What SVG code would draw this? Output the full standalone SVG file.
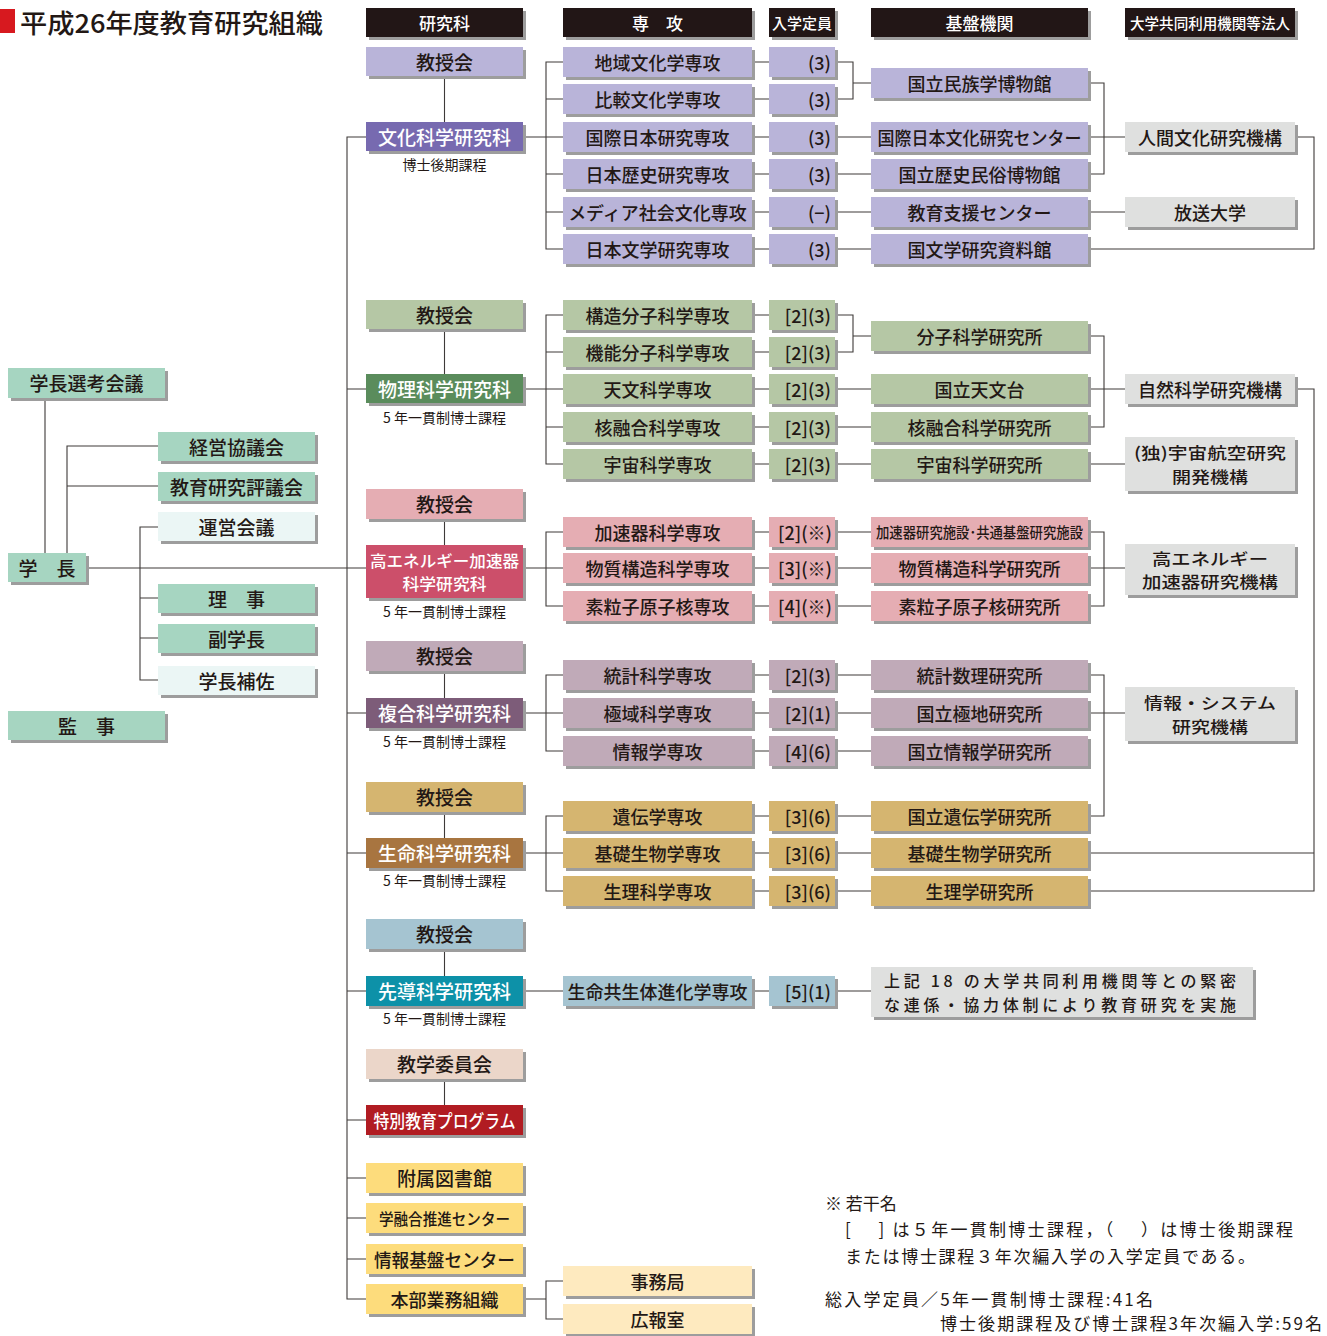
<svg xmlns="http://www.w3.org/2000/svg" width="1327" height="1336" viewBox="0 0 1327 1336">
<defs>
<filter id="ds" x="-5%" y="-10%" width="115%" height="140%">
<feDropShadow dx="3" dy="3" stdDeviation="0" flood-color="#9d9d9d" flood-opacity="1"/>
</filter>
<style>
.bx{filter:url(#ds);}
.t{font-family:"Noto Sans CJK JP","Noto Sans",sans-serif;font-size:18px;font-weight:500;fill:#231815;text-anchor:middle;dominant-baseline:central;}
.w{fill:#ffffff;}
.q{text-anchor:end;}
.s{font-size:14px;font-weight:normal;}
.m{font-size:16px;}
.n{font-family:"Noto Sans CJK JP","Noto Sans",sans-serif;font-size:17px;fill:#231815;}
.ln{stroke:#3e3a39;stroke-width:1.1;fill:none;}
.fk{fill:#231815}
.fb1{fill:#b9b4d9}.fb2{fill:#776bb0}
.fp1{fill:#b5c7a5}.fp2{fill:#5a8c5c}
.fh1{fill:#e5adb3}.fh2{fill:#cc4f6b}
.fc1{fill:#c0aab8}.fc2{fill:#7d5b79}
.fl1{fill:#d5b56f}.fl2{fill:#a8743f}
.fs1{fill:#a5c4d1}.fs2{fill:#0a91a8}
.fm{fill:#a6d5c1}.fm2{fill:#ebf6f5}
.fg{fill:#dfe0df}
.fy{fill:#fddc7b}.fy2{fill:#feeabf}
.fe{fill:#ebd6c9}.fr{fill:#b11b22}
</style>
</defs>
<rect width="1327" height="1336" fill="#ffffff"/>

<g id="title">
<rect x="0" y="9" width="15" height="24" fill="#d7191f"/>
<text class="t" x="20" y="21" style="text-anchor:start;font-size:26px" textLength="303" lengthAdjust="spacingAndGlyphs">平成26年度教育研究組織</text>
</g>

<g id="connectors">
<path class="ln" d="M45 398V553M158 446H67V553M67 486H158M158 527H140V680H158M140 598H158M140 638H158M86 568H366"/>
<path class="ln" d="M366 137H347V1299H366M347 389H366M347 713H366M347 853H366M347 991H366M347 1120H366M347 1178H366M347 1218H366M347 1259H366"/>
<path class="ln" d="M444.5 77V122M444.5 330V374M444.5 519V545M444.5 671V698M444.5 812V838M444.5 949V976M444.5 1079V1105"/>
<path class="ln" d="M523 137H563M523 389H563M523 568H563M523 713H563M523 853H563M523 991H563M523 1299H546"/>
<path class="ln" d="M563 62H546V249H563M546 99H563M546 174H563M546 212H563M563 315H546V464H563M546 352H563M546 427H563M563 532H546V606H563M563 675H546V751H563M563 816H546V891H563M563 1281H546V1319H563"/>
<path class="ln" d="M752 62H769M752 99H769M752 137H769M752 174H769M752 212H769M752 249H769M752 315H769M752 352H769M752 389H769M752 427H769M752 464H769M752 532H769M752 568H769M752 606H769M752 675H769M752 713H769M752 751H769M752 816H769M752 853H769M752 891H769M752 991H769"/>
<path class="ln" d="M835 62H853V99H835M853 83H871M835 137H871M835 174H871M835 212H871M835 249H871M835 315H853V352H835M853 336H871M835 389H871M835 427H871M835 464H871M835 532H871M835 568H871M835 606H871M835 675H871M835 713H871M835 751H871M835 816H871M835 853H871M835 891H871M835 991H871"/>
<path class="ln" d="M1088 83H1104V174H1088M1088 137H1125M1088 212H1125M1088 249H1314V137H1295M1088 336H1104V427H1088M1088 389H1125M1088 464H1125M1295 389H1314V891H1088M1088 532H1104V606H1088M1088 568H1125M1088 675H1104V816H1088M1088 713H1125M1088 853H1314"/>
</g>

<g id="headers">
<g id="h-kenkyuka"><rect class="bx fk" x="366" y="8" width="157" height="29"/><text class="t w" x="444.5" y="22.5" style="font-size:17px">研究科</text></g>
<g id="h-senko"><rect class="bx fk" x="563" y="8" width="189" height="29"/><text class="t w" x="657.5" y="22.5" style="font-size:17px">専　攻</text></g>
<g id="h-teiin"><rect class="bx fk" x="769" y="8" width="66" height="29"/><text class="t w" x="802" y="22.5" style="font-size:15px" textLength="60" lengthAdjust="spacingAndGlyphs">入学定員</text></g>
<g id="h-kiban"><rect class="bx fk" x="871" y="8" width="217" height="29"/><text class="t w" x="979.5" y="22.5" style="font-size:17px">基盤機関</text></g>
<g id="h-hojin"><rect class="bx fk" x="1125" y="8" width="170" height="29"/><text class="t w" x="1210" y="22.5" style="font-size:15px" textLength="160" lengthAdjust="spacingAndGlyphs">大学共同利用機関等法人</text></g>
</g>

<g id="left">
<g id="n-senkou"><rect class="bx fm" x="8" y="368" width="157" height="30"/><text class="t" x="86.5" y="382.5" style="font-size:19px">学長選考会議</text></g>
<g id="n-keiei"><rect class="bx fm" x="158" y="432" width="157" height="29"/><text class="t" x="236.5" y="446" style="font-size:19px">経営協議会</text></g>
<g id="n-hyogi"><rect class="bx fm" x="158" y="472" width="157" height="29"/><text class="t" x="236.5" y="486" style="font-size:19px">教育研究評議会</text></g>
<g id="n-unei"><rect class="bx fm2" x="158" y="512" width="157" height="29"/><text class="t" x="236.5" y="526" style="font-size:19px">運営会議</text></g>
<g id="n-gakucho"><rect class="bx fm" x="8" y="553" width="78" height="29"/><text class="t" x="47" y="567" style="font-size:19px">学　長</text></g>
<g id="n-riji"><rect class="bx fm" x="158" y="584" width="157" height="29"/><text class="t" x="236.5" y="598" style="font-size:19px">理　事</text></g>
<g id="n-fuku"><rect class="bx fm" x="158" y="624" width="157" height="29"/><text class="t" x="236.5" y="638" style="font-size:19px">副学長</text></g>
<g id="n-hosa"><rect class="bx fm2" x="158" y="666" width="157" height="29"/><text class="t" x="236.5" y="680" style="font-size:19px">学長補佐</text></g>
<g id="n-kanji"><rect class="bx fm" x="8" y="711" width="157" height="29"/><text class="t" x="86.5" y="725" style="font-size:19px">監　事</text></g>
</g>

<g id="bunka">
<g id="k-bunka-kyoju"><rect class="bx fb1" x="366" y="47" width="157" height="29"/><text class="t" x="444.5" y="61" style="font-size:19px">教授会</text></g>
<g id="k-bunka"><rect class="bx fb2" x="366" y="122" width="157" height="29"/><text class="t w" x="444.5" y="136" style="font-size:19px">文化科学研究科</text></g>
<text class="t s" x="444.5" y="164">博士後期課程</text>
<g id="s-chiiki"><rect class="bx fb1" x="563" y="47" width="189" height="30"/><text class="t" x="657.5" y="61.5">地域文化学専攻</text></g>
<g id="s-hikaku"><rect class="bx fb1" x="563" y="84" width="189" height="30"/><text class="t" x="657.5" y="98.5">比較文化学専攻</text></g>
<g id="s-kokusai"><rect class="bx fb1" x="563" y="122" width="189" height="30"/><text class="t" x="657.5" y="136.5">国際日本研究専攻</text></g>
<g id="s-rekishi"><rect class="bx fb1" x="563" y="159" width="189" height="30"/><text class="t" x="657.5" y="173.5">日本歴史研究専攻</text></g>
<g id="s-media"><rect class="bx fb1" x="563" y="197" width="189" height="30"/><text class="t" x="657.5" y="211.5">メディア社会文化専攻</text></g>
<g id="s-bungaku"><rect class="bx fb1" x="563" y="234" width="189" height="30"/><text class="t" x="657.5" y="248.5">日本文学研究専攻</text></g>
<g id="q-b1"><rect class="bx fb1" x="769" y="47" width="66" height="30"/><text class="t q" x="831" y="61.5">(3)</text></g>
<g id="q-b2"><rect class="bx fb1" x="769" y="84" width="66" height="30"/><text class="t q" x="831" y="98.5">(3)</text></g>
<g id="q-b3"><rect class="bx fb1" x="769" y="122" width="66" height="30"/><text class="t q" x="831" y="136.5">(3)</text></g>
<g id="q-b4"><rect class="bx fb1" x="769" y="159" width="66" height="30"/><text class="t q" x="831" y="173.5">(3)</text></g>
<g id="q-b5"><rect class="bx fb1" x="769" y="197" width="66" height="30"/><text class="t q" x="831" y="211.5">(−)</text></g>
<g id="q-b6"><rect class="bx fb1" x="769" y="234" width="66" height="30"/><text class="t q" x="831" y="248.5">(3)</text></g>
<g id="b-minpaku"><rect class="bx fb1" x="871" y="68" width="217" height="30"/><text class="t" x="979.5" y="82.5">国立民族学博物館</text></g>
<g id="b-nichibun"><rect class="bx fb1" x="871" y="122" width="217" height="30"/><text class="t" x="979.5" y="136.5" textLength="204" lengthAdjust="spacingAndGlyphs">国際日本文化研究センター</text></g>
<g id="b-rekihaku"><rect class="bx fb1" x="871" y="159" width="217" height="30"/><text class="t" x="979.5" y="173.5">国立歴史民俗博物館</text></g>
<g id="b-shien"><rect class="bx fb1" x="871" y="197" width="217" height="30"/><text class="t" x="979.5" y="211.5">教育支援センター</text></g>
<g id="b-kokubun"><rect class="bx fb1" x="871" y="234" width="217" height="30"/><text class="t" x="979.5" y="248.5">国文学研究資料館</text></g>
<g id="h-ningen"><rect class="bx fg" x="1125" y="122" width="170" height="30"/><text class="t" x="1210" y="136.5">人間文化研究機構</text></g>
<g id="h-hoso"><rect class="bx fg" x="1125" y="197" width="170" height="30"/><text class="t" x="1210" y="211.5">放送大学</text></g>
</g>

<g id="butsuri">
<g id="k-butsuri-kyoju"><rect class="bx fp1" x="366" y="300" width="157" height="29"/><text class="t" x="444.5" y="314" style="font-size:19px">教授会</text></g>
<g id="k-butsuri"><rect class="bx fp2" x="366" y="374" width="157" height="29"/><text class="t w" x="444.5" y="388" style="font-size:19px">物理科学研究科</text></g>
<text class="t s" x="444.5" y="417">5 年一貫制博士課程</text>
<g id="s-kozo"><rect class="bx fp1" x="563" y="300" width="189" height="30"/><text class="t" x="657.5" y="314.5">構造分子科学専攻</text></g>
<g id="s-kino"><rect class="bx fp1" x="563" y="337" width="189" height="30"/><text class="t" x="657.5" y="351.5">機能分子科学専攻</text></g>
<g id="s-tenmon"><rect class="bx fp1" x="563" y="374" width="189" height="30"/><text class="t" x="657.5" y="388.5">天文科学専攻</text></g>
<g id="s-kakuyugo"><rect class="bx fp1" x="563" y="412" width="189" height="30"/><text class="t" x="657.5" y="426.5">核融合科学専攻</text></g>
<g id="s-uchu"><rect class="bx fp1" x="563" y="449" width="189" height="30"/><text class="t" x="657.5" y="463.5">宇宙科学専攻</text></g>
<g id="q-p1"><rect class="bx fp1" x="769" y="300" width="66" height="30"/><text class="t q" x="831" y="314.5">[2](3)</text></g>
<g id="q-p2"><rect class="bx fp1" x="769" y="337" width="66" height="30"/><text class="t q" x="831" y="351.5">[2](3)</text></g>
<g id="q-p3"><rect class="bx fp1" x="769" y="374" width="66" height="30"/><text class="t q" x="831" y="388.5">[2](3)</text></g>
<g id="q-p4"><rect class="bx fp1" x="769" y="412" width="66" height="30"/><text class="t q" x="831" y="426.5">[2](3)</text></g>
<g id="q-p5"><rect class="bx fp1" x="769" y="449" width="66" height="30"/><text class="t q" x="831" y="463.5">[2](3)</text></g>
<g id="b-bunshi"><rect class="bx fp1" x="871" y="321" width="217" height="30"/><text class="t" x="979.5" y="335.5">分子科学研究所</text></g>
<g id="b-tenmondai"><rect class="bx fp1" x="871" y="374" width="217" height="30"/><text class="t" x="979.5" y="388.5">国立天文台</text></g>
<g id="b-kakuyugo"><rect class="bx fp1" x="871" y="412" width="217" height="30"/><text class="t" x="979.5" y="426.5">核融合科学研究所</text></g>
<g id="b-uchu"><rect class="bx fp1" x="871" y="449" width="217" height="30"/><text class="t" x="979.5" y="463.5">宇宙科学研究所</text></g>
<g id="h-shizen"><rect class="bx fg" x="1125" y="374" width="170" height="30"/><text class="t" x="1210" y="388.5">自然科学研究機構</text></g>
<g id="h-jaxa"><rect class="bx fg" x="1125" y="437" width="170" height="54"/><text class="t m" x="1210" y="452"><tspan x="1210" textLength="152" lengthAdjust="spacingAndGlyphs">(独)宇宙航空研究</tspan><tspan x="1210" dy="23.5" textLength="76" lengthAdjust="spacingAndGlyphs">開発機構</tspan></text></g>
</g>

<g id="koene">
<g id="k-koene-kyoju"><rect class="bx fh1" x="366" y="489" width="157" height="30"/><text class="t" x="444.5" y="503.5" style="font-size:19px">教授会</text></g>
<g id="k-koene"><rect class="bx fh2" x="366" y="545" width="157" height="53"/><text class="t w m" x="444.5" y="559.5"><tspan x="444.5" textLength="149" lengthAdjust="spacingAndGlyphs">高エネルギー加速器</tspan><tspan x="444.5" dy="23.5" textLength="84" lengthAdjust="spacingAndGlyphs">科学研究科</tspan></text></g>
<text class="t s" x="444.5" y="611">5 年一貫制博士課程</text>
<g id="s-kasokuki"><rect class="bx fh1" x="563" y="517" width="189" height="30"/><text class="t" x="657.5" y="531.5">加速器科学専攻</text></g>
<g id="s-busshitsu"><rect class="bx fh1" x="563" y="553" width="189" height="30"/><text class="t" x="657.5" y="567.5">物質構造科学専攻</text></g>
<g id="s-soryushi"><rect class="bx fh1" x="563" y="591" width="189" height="30"/><text class="t" x="657.5" y="605.5">素粒子原子核専攻</text></g>
<g id="q-h1"><rect class="bx fh1" x="769" y="517" width="66" height="30"/><text class="t q" x="832" y="531.5">[2](※)</text></g>
<g id="q-h2"><rect class="bx fh1" x="769" y="553" width="66" height="30"/><text class="t q" x="832" y="567.5">[3](※)</text></g>
<g id="q-h3"><rect class="bx fh1" x="769" y="591" width="66" height="30"/><text class="t q" x="832" y="605.5">[4](※)</text></g>
<g id="b-kasokuki"><rect class="bx fh1" x="871" y="517" width="217" height="30"/><text class="t" x="979.5" y="531.5" style="font-size:15px" textLength="207" lengthAdjust="spacingAndGlyphs">加速器研究施設･共通基盤研究施設</text></g>
<g id="b-busshitsu"><rect class="bx fh1" x="871" y="553" width="217" height="30"/><text class="t" x="979.5" y="567.5">物質構造科学研究所</text></g>
<g id="b-soryushi"><rect class="bx fh1" x="871" y="591" width="217" height="30"/><text class="t" x="979.5" y="605.5">素粒子原子核研究所</text></g>
<g id="h-kek"><rect class="bx fg" x="1125" y="544" width="170" height="51"/><text class="t m" x="1210" y="557.5"><tspan x="1210" textLength="116" lengthAdjust="spacingAndGlyphs">高エネルギー</tspan><tspan x="1210" dy="23.5" textLength="136" lengthAdjust="spacingAndGlyphs">加速器研究機構</tspan></text></g>
</g>

<g id="fukugo">
<g id="k-fukugo-kyoju"><rect class="bx fc1" x="366" y="641" width="157" height="30"/><text class="t" x="444.5" y="655.5" style="font-size:19px">教授会</text></g>
<g id="k-fukugo"><rect class="bx fc2" x="366" y="698" width="157" height="30"/><text class="t w" x="444.5" y="712.5" style="font-size:19px">複合科学研究科</text></g>
<text class="t s" x="444.5" y="741">5 年一貫制博士課程</text>
<g id="s-tokei"><rect class="bx fc1" x="563" y="660" width="189" height="30"/><text class="t" x="657.5" y="674.5">統計科学専攻</text></g>
<g id="s-kyokuiki"><rect class="bx fc1" x="563" y="698" width="189" height="30"/><text class="t" x="657.5" y="712.5">極域科学専攻</text></g>
<g id="s-joho"><rect class="bx fc1" x="563" y="736" width="189" height="30"/><text class="t" x="657.5" y="750.5">情報学専攻</text></g>
<g id="q-c1"><rect class="bx fc1" x="769" y="660" width="66" height="30"/><text class="t q" x="831" y="674.5">[2](3)</text></g>
<g id="q-c2"><rect class="bx fc1" x="769" y="698" width="66" height="30"/><text class="t q" x="831" y="712.5">[2](1)</text></g>
<g id="q-c3"><rect class="bx fc1" x="769" y="736" width="66" height="30"/><text class="t q" x="831" y="750.5">[4](6)</text></g>
<g id="b-tokei"><rect class="bx fc1" x="871" y="660" width="217" height="30"/><text class="t" x="979.5" y="674.5">統計数理研究所</text></g>
<g id="b-kyokuchi"><rect class="bx fc1" x="871" y="698" width="217" height="30"/><text class="t" x="979.5" y="712.5">国立極地研究所</text></g>
<g id="b-joho"><rect class="bx fc1" x="871" y="736" width="217" height="30"/><text class="t" x="979.5" y="750.5">国立情報学研究所</text></g>
<g id="h-rois"><rect class="bx fg" x="1125" y="687" width="170" height="54"/><text class="t m" x="1210" y="702"><tspan x="1210" textLength="132" lengthAdjust="spacingAndGlyphs">情報・システム</tspan><tspan x="1210" dy="23.5" textLength="76" lengthAdjust="spacingAndGlyphs">研究機構</tspan></text></g>
</g>

<g id="seimei">
<g id="k-seimei-kyoju"><rect class="bx fl1" x="366" y="782" width="157" height="30"/><text class="t" x="444.5" y="796.5" style="font-size:19px">教授会</text></g>
<g id="k-seimei"><rect class="bx fl2" x="366" y="838" width="157" height="30"/><text class="t w" x="444.5" y="852.5" style="font-size:19px">生命科学研究科</text></g>
<text class="t s" x="444.5" y="880">5 年一貫制博士課程</text>
<g id="s-iden"><rect class="bx fl1" x="563" y="801" width="189" height="30"/><text class="t" x="657.5" y="815.5">遺伝学専攻</text></g>
<g id="s-kiso"><rect class="bx fl1" x="563" y="838" width="189" height="30"/><text class="t" x="657.5" y="852.5">基礎生物学専攻</text></g>
<g id="s-seiri"><rect class="bx fl1" x="563" y="876" width="189" height="30"/><text class="t" x="657.5" y="890.5">生理科学専攻</text></g>
<g id="q-l1"><rect class="bx fl1" x="769" y="801" width="66" height="30"/><text class="t q" x="831" y="815.5">[3](6)</text></g>
<g id="q-l2"><rect class="bx fl1" x="769" y="838" width="66" height="30"/><text class="t q" x="831" y="852.5">[3](6)</text></g>
<g id="q-l3"><rect class="bx fl1" x="769" y="876" width="66" height="30"/><text class="t q" x="831" y="890.5">[3](6)</text></g>
<g id="b-iden"><rect class="bx fl1" x="871" y="801" width="217" height="30"/><text class="t" x="979.5" y="815.5">国立遺伝学研究所</text></g>
<g id="b-kiso"><rect class="bx fl1" x="871" y="838" width="217" height="30"/><text class="t" x="979.5" y="852.5">基礎生物学研究所</text></g>
<g id="b-seiri"><rect class="bx fl1" x="871" y="876" width="217" height="30"/><text class="t" x="979.5" y="890.5">生理学研究所</text></g>
</g>

<g id="sendo">
<g id="k-sendo-kyoju"><rect class="bx fs1" x="366" y="919" width="157" height="30"/><text class="t" x="444.5" y="933.5" style="font-size:19px">教授会</text></g>
<g id="k-sendo"><rect class="bx fs2" x="366" y="976" width="157" height="30"/><text class="t w" x="444.5" y="990.5" style="font-size:19px">先導科学研究科</text></g>
<text class="t s" x="444.5" y="1018">5 年一貫制博士課程</text>
<g id="s-kyosei"><rect class="bx fs1" x="563" y="976" width="189" height="30"/><text class="t" x="657.5" y="990.5">生命共生体進化学専攻</text></g>
<g id="q-s1"><rect class="bx fs1" x="769" y="976" width="66" height="30"/><text class="t q" x="831" y="990.5">[5](1)</text></g>
<g id="note-box"><rect class="bx fg" x="871" y="967" width="382" height="50"/>
<text class="t m" x="884" y="980" style="text-anchor:start"><tspan x="884" textLength="352" lengthAdjust="spacing">上記 18 の大学共同利用機関等との緊密</tspan><tspan x="884" dy="23.5" textLength="352" lengthAdjust="spacing">な連係・協力体制により教育研究を実施</tspan></text></g>
</g>

<g id="others">
<g id="k-kyogaku"><rect class="bx fe" x="366" y="1049" width="157" height="30"/><text class="t" x="444.5" y="1063.5" style="font-size:19px">教学委員会</text></g>
<g id="k-tokubetsu"><rect class="bx fr" x="366" y="1105" width="157" height="30"/><text class="t w" x="444.5" y="1119.5" textLength="142" lengthAdjust="spacingAndGlyphs">特別教育プログラム</text></g>
<g id="k-tosho"><rect class="bx fy" x="366" y="1163" width="157" height="30"/><text class="t" x="444.5" y="1177.5" style="font-size:19px">附属図書館</text></g>
<g id="k-gakuyugo"><rect class="bx fy" x="366" y="1203" width="157" height="30"/><text class="t" x="444.5" y="1217.5" style="font-size:16px" textLength="131" lengthAdjust="spacingAndGlyphs">学融合推進センター</text></g>
<g id="k-johokiban"><rect class="bx fy" x="366" y="1244" width="157" height="30"/><text class="t" x="444.5" y="1258.5" textLength="141" lengthAdjust="spacingAndGlyphs">情報基盤センター</text></g>
<g id="k-honbu"><rect class="bx fy" x="366" y="1284" width="157" height="30"/><text class="t" x="444.5" y="1298.5">本部業務組織</text></g>
<g id="s-jimu"><rect class="bx fy2" x="563" y="1266" width="189" height="30"/><text class="t" x="657.5" y="1280.5">事務局</text></g>
<g id="s-koho"><rect class="bx fy2" x="563" y="1304" width="189" height="30"/><text class="t" x="657.5" y="1318.5">広報室</text></g>
</g>

<g id="footnotes">
<text class="n" x="825" y="1210">※ 若干名</text>
<text class="n" x="845" y="1236" textLength="448" lengthAdjust="spacing">[　 ] は５年一貫制博士課程，（　 ）は博士後期課程</text>
<text class="n" x="845" y="1263" textLength="410" lengthAdjust="spacing">または博士課程３年次編入学の入学定員である。</text>
<text class="n" x="825" y="1306" textLength="328" lengthAdjust="spacing">総入学定員／5年一貫制博士課程:41名</text>
<text class="n" x="940" y="1330" textLength="382" lengthAdjust="spacing">博士後期課程及び博士課程3年次編入学:59名</text>
</g>
</svg>
